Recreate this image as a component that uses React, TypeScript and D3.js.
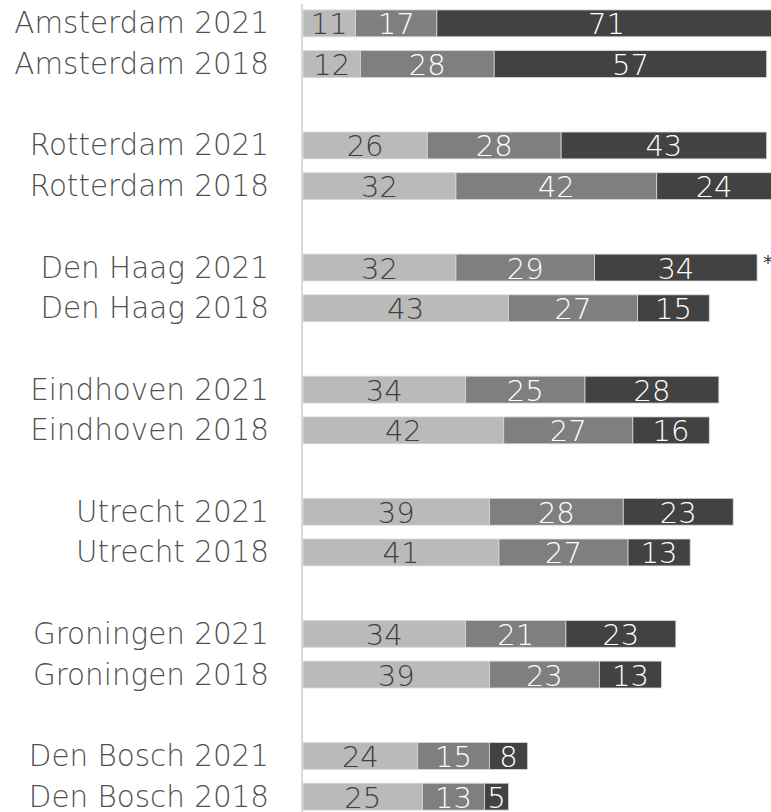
import React from 'react';
import * as d3 from 'd3';

// cities top to bottom, each with a 2021 and a 2018 bar
const cities = ['Amsterdam', 'Rotterdam', 'Den Haag', 'Eindhoven', 'Utrecht', 'Groningen', 'Den Bosch'];
const years = ['2021', '2018'];

const light2021 = [11, 26, 32, 34, 39, 34, 24];
const mid2021 = [17, 28, 29, 25, 28, 21, 15];
const dark2021 = [71, 43, 34, 28, 23, 23, 8];

const light2018 = [12, 32, 43, 42, 41, 39, 25];
const mid2018 = [28, 42, 27, 27, 27, 23, 13];
const dark2018 = [57, 24, 15, 16, 13, 13, 5];

const starred = ['Den Haag 2021'];

const W = 771;
const H = 812;
const FONT = '"DejaVu Sans", sans-serif';
const colors = ['#bababa', '#7f7f7f', '#424242'];
const textColors = ['#404040', '#ffffff', '#ffffff'];

export default function App() {
  // build rows: city 2021, city 2018, then an empty slot
  const rows = [];
  cities.forEach((c, i) => {
    rows.push({ label: c + ' ' + years[0], slot: i * 3, vals: [light2021[i], mid2021[i], dark2021[i]] });
    rows.push({ label: c + ' ' + years[1], slot: i * 3 + 1, vals: [light2018[i], mid2018[i], dark2018[i]] });
  });

  const y = d3.scaleBand<number>()
    .domain(d3.range(20))
    .range([3, 817])
    .paddingInner(0.34)
    .paddingOuter(0.17);

  const x = d3.scaleLinear().domain([0, 100]).range([303, 781]);

  const bh = y.bandwidth();

  return (
    <svg width={W} height={H} style={{ position: 'absolute', left: 0, top: 0, background: '#fff' }}>
      <line x1={302} x2={302} y1={4} y2={H} stroke="#d9d9d9" strokeWidth={2} />
      {rows.map((r) => {
        const y0 = y(r.slot);
        const cy = y0 + bh / 2;
        let acc = 0;
        const segs = r.vals.map((v, k) => {
          const s = { x0: acc, x1: acc + v, v, k };
          acc += v;
          return s;
        });
        return (
          <g key={r.label}>
            <text x={269} y={cy + 10} textAnchor="end" fontFamily={FONT} fontWeight={300}
              fontSize={29.4} fill="#505050">{r.label}</text>
            {segs.map((s) => (
              <rect key={s.k} x={x(s.x0)} y={y0} width={x(s.x1) - x(s.x0)} height={bh}
                fill={colors[s.k]} stroke="#d9d9d9" strokeWidth={0.8} />
            ))}
            {segs.map((s) => (
              <text key={'t' + s.k} x={(x(s.x0) + x(s.x1)) / 2} y={cy + 11} textAnchor="middle"
                fontFamily={FONT} fontWeight={300} fontSize={29} fill={textColors[s.k]}>{s.v}</text>
            ))}
            {starred.includes(r.label) && (
              <text x={x(acc) + 6} y={cy + 1} fontFamily={FONT} fontSize={20} fill="#404040">*</text>
            )}
          </g>
        );
      })}
    </svg>
  );
}
